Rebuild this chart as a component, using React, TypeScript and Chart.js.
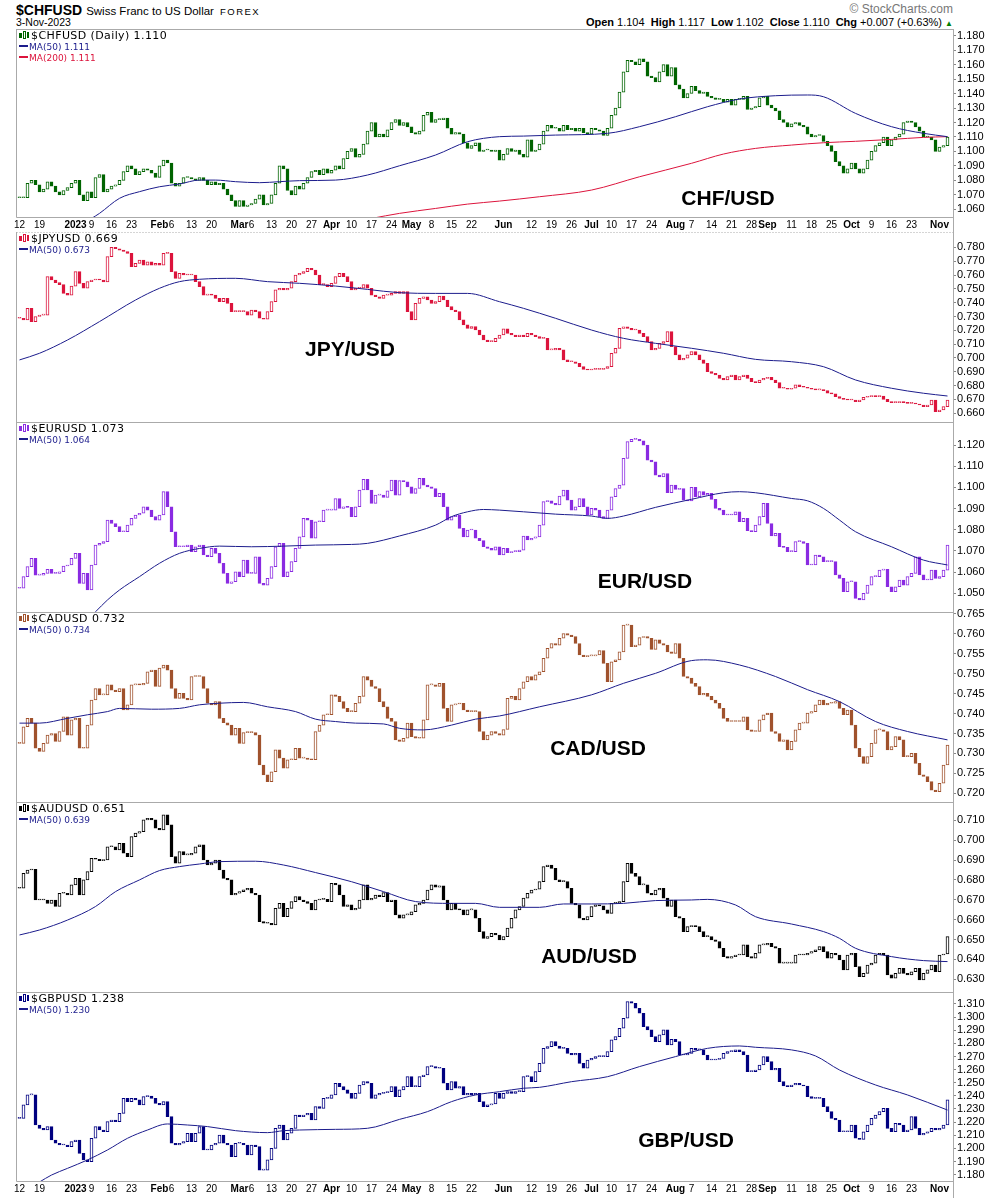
import { useEffect, useRef } from "react";
import { Chart, registerables } from "chart.js";

Chart.register(...registerables);

// trading days 12-Dec-2022 .. 3-Nov-2023 (no bars on 26-Dec and 2-Jan), index 0..232
const dateTickDays = [
  0, 5, 14, 18, 23, 28, 35, 38, 43, 48, 55, 58, 63, 68, 73, 78, 83, 88, 93, 98, 103, 108, 113,
  121, 128, 133, 138, 143, 148, 153, 158, 164, 168, 173, 178, 183, 187, 193, 198, 203, 208, 213,
  218, 223, 230,
];
const dateTickLabels = [
  "12", "19", "2023", "9", "16", "23", "Feb", "6", "13", "20", "Mar", "6", "13", "20", "27",
  "Apr", "10", "17", "24", "May", "8", "15", "22", "Jun", "12", "19", "26", "Jul", "10", "17",
  "24", "Aug", "7", "14", "21", "28", "Sep", "11", "18", "25", "Oct", "9", "16", "23", "Nov",
];
const majorDateLabels = ["2023", "Feb", "Mar", "Apr", "May", "Jun", "Jul", "Aug", "Sep", "Oct", "Nov"];

// daily closes
const chfClose = [
  1.068, 1.068, 1.078, 1.080, 1.077, 1.072, 1.074, 1.079, 1.076,
  1.072, 1.070, 1.073, 1.075, 1.078, 1.080, 1.070, 1.066, 1.072, 1.068,
  1.082, 1.084, 1.072, 1.074, 1.076, 1.077, 1.080, 1.086, 1.090,
  1.088, 1.084, 1.086, 1.088, 1.087, 1.085, 1.082, 1.090, 1.094,
  1.092, 1.078, 1.076, 1.078, 1.082, 1.082, 1.081, 1.080, 1.082, 1.080,
  1.077, 1.079, 1.077, 1.078, 1.074, 1.070, 1.066, 1.062, 1.066, 1.062,
  1.063, 1.064, 1.067, 1.070, 1.063, 1.064, 1.070, 1.078, 1.090, 1.088,
  1.073, 1.070, 1.076, 1.074, 1.078, 1.082, 1.086, 1.087, 1.084, 1.088,
  1.085, 1.087, 1.090, 1.088, 1.095, 1.100, 1.102, 1.096, 1.098, 1.105,
  1.114, 1.120, 1.110, 1.112, 1.110, 1.115, 1.120, 1.122, 1.118, 1.120,
  1.117, 1.113, 1.112, 1.114, 1.125, 1.127, 1.120, 1.122, 1.122, 1.123,
  1.116, 1.112, 1.113, 1.112, 1.106, 1.102, 1.104, 1.106, 1.100, 1.101,
  1.101, 1.100, 1.101, 1.094,
  1.098, 1.102, 1.100, 1.101, 1.098, 1.096, 1.108, 1.100, 1.101, 1.105,
  1.114, 1.118, 1.116, 1.116, 1.114, 1.118, 1.115, 1.116, 1.114, 1.116,
  1.113, 1.112, 1.116, 1.115, 1.114, 1.111, 1.116, 1.125, 1.130, 1.141,
  1.155, 1.163, 1.162, 1.160, 1.164, 1.162, 1.152, 1.151, 1.148, 1.155,
  1.160, 1.152, 1.158, 1.146, 1.143, 1.137, 1.140, 1.145, 1.142, 1.140,
  1.141, 1.138, 1.137, 1.136, 1.136, 1.134, 1.136, 1.132, 1.136, 1.136,
  1.138, 1.129, 1.130, 1.131, 1.137, 1.138, 1.132, 1.130, 1.128, 1.122,
  1.120, 1.117, 1.119, 1.120, 1.118, 1.117, 1.112, 1.110, 1.111, 1.111,
  1.107, 1.104, 1.100, 1.093, 1.090, 1.085, 1.088, 1.092, 1.088, 1.085,
  1.088, 1.094, 1.100, 1.104, 1.106, 1.110, 1.104, 1.108, 1.110, 1.112,
  1.120, 1.121, 1.120, 1.117, 1.114, 1.110, 1.110, 1.108, 1.100, 1.103, 1.104, 1.110,
];
const jpyClose = [
  0.7287, 0.7275, 0.7359, 0.7263, 0.730, 0.731, 0.731, 0.7588, 0.7564, 0.7545,
  0.753, 0.7467, 0.7455, 0.752, 0.7624, 0.754, 0.7504, 0.7552, 0.7564, 0.7569,
  0.7564, 0.755, 0.7733, 0.780, 0.779, 0.778, 0.777, 0.7757, 0.766, 0.7684,
  0.7708, 0.7672, 0.7696, 0.7672, 0.7684, 0.7672, 0.7757, 0.7757, 0.7624, 0.7576,
  0.7612, 0.760, 0.760, 0.760, 0.7552, 0.7516, 0.7455, 0.746, 0.7455, 0.7431,
  0.7407, 0.7431, 0.7395, 0.7335, 0.7335, 0.7335, 0.7335, 0.731, 0.7347, 0.7335,
  0.7287, 0.728, 0.7335, 0.7407, 0.7492, 0.7504, 0.7492, 0.7504, 0.7552, 0.760,
  0.7612, 0.7624, 0.7648, 0.7636, 0.760, 0.753, 0.753, 0.7516, 0.754,
  0.7588, 0.7612, 0.7588, 0.7552, 0.7492, 0.7504, 0.7504, 0.753, 0.7504, 0.7455,
  0.7443, 0.7431, 0.7455, 0.7455, 0.7467, 0.748, 0.7467, 0.748, 0.7335, 0.7275,
  0.7395, 0.7431, 0.7443, 0.7419, 0.7395, 0.7407, 0.7448, 0.7419, 0.7371, 0.7347,
  0.7335, 0.7275, 0.7239, 0.7214, 0.7227, 0.7202, 0.7166, 0.713, 0.7118, 0.7118,
  0.7142, 0.7166, 0.721, 0.7178, 0.7166, 0.7154, 0.7166, 0.7154, 0.7178, 0.7166,
  0.7154, 0.7142, 0.7142, 0.7058, 0.7058, 0.707, 0.7058, 0.6986, 0.6973, 0.6973,
  0.6961, 0.6937, 0.6918, 0.6913, 0.6918, 0.6918, 0.6918, 0.6925, 0.6937, 0.7034,
  0.707, 0.7214, 0.7226, 0.7214, 0.7202, 0.7202, 0.7178, 0.7154, 0.7118, 0.7058,
  0.707, 0.7106, 0.7118, 0.719, 0.7082, 0.7022, 0.6986, 0.6998, 0.7022, 0.7046,
  0.7022, 0.6986, 0.6961, 0.6901, 0.6889, 0.6877, 0.6853, 0.6841, 0.6865, 0.6877,
  0.6841, 0.6865, 0.6877, 0.6853, 0.6829, 0.6822, 0.6841, 0.6853, 0.686, 0.6841,
  0.6822, 0.6781, 0.6781, 0.6774, 0.6781, 0.6805, 0.6793, 0.6788, 0.6781, 0.6774,
  0.6769, 0.6769, 0.6764, 0.6745, 0.674, 0.672, 0.6708, 0.6701, 0.6696, 0.6696,
  0.6684, 0.6696, 0.6716, 0.672, 0.6725, 0.672, 0.6725, 0.6701, 0.6684, 0.6677,
  0.6677, 0.6684, 0.6677, 0.6672, 0.6672, 0.6667, 0.666, 0.6648, 0.666,
  0.6696, 0.6612, 0.6624, 0.6648, 0.6696,
];
const eurClose = [
  1.0524, 1.0579, 1.0626, 1.0665, 1.0586, 1.0586, 1.0594, 1.0613, 1.0594, 1.0594,
  1.0602, 1.0629, 1.0634, 1.0665, 1.0689, 1.0547, 1.0594, 1.0516, 1.0634, 1.0728,
  1.0736, 1.0744, 1.0846, 1.083, 1.0815, 1.0791, 1.0791, 1.0822, 1.0854, 1.087,
  1.0878, 1.0909, 1.0893, 1.0862, 1.0846, 1.087, 1.098, 1.0909, 1.0791, 1.072,
  1.072, 1.072, 1.0728, 1.0697, 1.072, 1.0728, 1.0681, 1.0673, 1.0712, 1.0689,
  1.0642, 1.0594, 1.0547, 1.0555, 1.0602, 1.0579, 1.0657, 1.0594, 1.0594, 1.0673,
  1.0547, 1.0539, 1.0571, 1.0626, 1.072, 1.0736, 1.0579, 1.0602, 1.065, 1.0712,
  1.0767, 1.0854, 1.0846, 1.076, 1.0838, 1.0838, 1.0893, 1.0893, 1.0893,
  1.0948, 1.0901, 1.0909, 1.0906, 1.0862, 1.0909, 1.0988, 1.1038, 1.0988, 1.0925,
  1.0964, 1.0964, 1.0953, 1.0984, 1.1035, 1.0964, 1.1032, 1.1027, 1.1003, 1.0972,
  1.0995, 1.1043, 1.1011, 1.1003, 1.0995, 1.0956, 1.0972, 1.0909, 1.0846, 1.0862,
  1.087, 1.0807, 1.0767, 1.0799, 1.0799, 1.076, 1.0749, 1.072, 1.0712, 1.0704,
  1.072, 1.0681, 1.0712, 1.0692, 1.0697, 1.0697, 1.0704, 1.0771, 1.0752, 1.076,
  1.0767, 1.0822, 1.0933, 1.0937, 1.0925, 1.0917, 1.0959, 1.0988, 1.094, 1.0893,
  1.0909, 1.0948, 1.0909, 1.087, 1.0901, 1.0893, 1.0862, 1.0854, 1.0893, 1.0956,
  1.0995, 1.1011, 1.1137, 1.1216, 1.1227, 1.1227, 1.122, 1.120, 1.1129, 1.1121,
  1.1058, 1.105, 1.1066, 1.0975, 1.1011, 1.0991, 1.0995, 1.094, 1.0937, 1.100,
  1.0956, 1.098, 1.0964, 1.0972, 1.0944, 1.0901, 1.0893, 1.087, 1.087, 1.087,
  1.0885, 1.0838, 1.0854, 1.0796, 1.0791, 1.0822, 1.0862, 1.0925, 1.083, 1.0771,
  1.0783, 1.072, 1.0717, 1.0697, 1.0697, 1.0744, 1.0744, 1.0736, 1.0634, 1.0634,
  1.0681, 1.0673, 1.065, 1.065, 1.065, 1.0587, 1.0571, 1.0508, 1.0555, 1.0555,
  1.0476, 1.0469, 1.050, 1.0539, 1.0579, 1.0579, 1.061, 1.0613, 1.0531, 1.0508,
  1.0531, 1.0563, 1.0539, 1.0579, 1.0594, 1.0673, 1.0587, 1.0563, 1.0563,
  1.061, 1.0571, 1.0579, 1.061, 1.0728,
];
const cadClose = [
  0.7325, 0.7367, 0.7388, 0.7376, 0.7313, 0.7305, 0.7325, 0.7346, 0.735, 0.733,
  0.7355, 0.7392, 0.7346, 0.7384, 0.7388, 0.7313, 0.7313, 0.7371, 0.7434, 0.7463,
  0.7447, 0.7447, 0.7472, 0.7459, 0.7455, 0.7463, 0.7409, 0.7422, 0.7472, 0.7474,
  0.7472, 0.7476, 0.7505, 0.7509, 0.7468, 0.7514, 0.7522, 0.7509, 0.7463, 0.7438,
  0.7451, 0.7438, 0.7434, 0.7493, 0.7493, 0.7493, 0.7463, 0.7426, 0.7422, 0.743,
  0.7388, 0.7377, 0.7371, 0.7346, 0.7363, 0.7325, 0.7352, 0.7352, 0.7352, 0.7346,
  0.7271, 0.7246, 0.7229, 0.7254, 0.7309, 0.7288, 0.7263, 0.7284, 0.7284, 0.7313,
  0.7288, 0.7288, 0.7285, 0.7284, 0.7355, 0.7371, 0.7397, 0.7397, 0.7447,
  0.7443, 0.743, 0.7413, 0.7405, 0.7405, 0.7426, 0.7443, 0.7493, 0.7484, 0.7468,
  0.7463, 0.743, 0.7417, 0.7388, 0.738, 0.7334, 0.733, 0.7338, 0.7376, 0.7342,
  0.7338, 0.7338, 0.7384, 0.7472, 0.7472, 0.7468, 0.7476, 0.7413, 0.738, 0.7422,
  0.7424, 0.7426, 0.7409, 0.7405, 0.7405, 0.7405, 0.7355, 0.7334, 0.7346, 0.7355,
  0.735, 0.7346, 0.736, 0.7438, 0.7443, 0.7434, 0.7463, 0.748, 0.7493, 0.7484,
  0.7497, 0.7505, 0.7539, 0.7564, 0.7576, 0.7572, 0.7589, 0.7601, 0.7597, 0.7593,
  0.7576, 0.7547, 0.7543, 0.7545, 0.7545, 0.7547, 0.7558, 0.7526, 0.748, 0.753,
  0.7535, 0.7555, 0.7622, 0.7622, 0.7568, 0.7572, 0.7591, 0.7593, 0.7589, 0.7561,
  0.7585, 0.7576, 0.7572, 0.7555, 0.7551, 0.7576, 0.7539, 0.7493, 0.7489, 0.7476,
  0.7468, 0.7447, 0.7451, 0.7443, 0.7434, 0.7426, 0.7413, 0.7388, 0.738, 0.738,
  0.738, 0.738, 0.7392, 0.7359, 0.7355, 0.7355, 0.7384, 0.7397, 0.7401, 0.7355,
  0.735, 0.733, 0.7334, 0.7309, 0.733, 0.7359, 0.7376, 0.7376, 0.7401, 0.7405,
  0.7422, 0.7434, 0.7422, 0.7426, 0.7426, 0.743, 0.7413, 0.7397, 0.7409, 0.7371,
  0.7313, 0.7292, 0.7275, 0.7292, 0.7325, 0.7359, 0.7359, 0.7355, 0.7309, 0.7317,
  0.7342, 0.7334, 0.7292, 0.7292, 0.730, 0.7275, 0.7246, 0.7242, 0.7229,
  0.7208, 0.7204, 0.7225, 0.7271, 0.7321,
];
const audClose = [
  0.6758, 0.6833, 0.685, 0.6853, 0.6699, 0.6699, 0.6699, 0.6682, 0.6699, 0.6666,
  0.6733, 0.6733, 0.6724, 0.6775, 0.6808, 0.6724, 0.68, 0.6842, 0.6909, 0.6904,
  0.6897, 0.69, 0.6967, 0.6967, 0.6951, 0.6984, 0.6934, 0.6917, 0.7018, 0.7035,
  0.7043, 0.7102, 0.711, 0.7102, 0.706, 0.7051, 0.7127, 0.7077, 0.6917, 0.6884,
  0.6942, 0.6926, 0.6926, 0.6934, 0.6967, 0.6976, 0.69, 0.6875, 0.6884, 0.69,
  0.685, 0.6808, 0.68, 0.6724, 0.6733, 0.6741, 0.675, 0.6758, 0.6733, 0.6724,
  0.659, 0.6582, 0.6582, 0.6573, 0.6657, 0.6682, 0.6615, 0.6657, 0.6691, 0.6716,
  0.6699, 0.6691, 0.6682, 0.6649, 0.6699, 0.6702, 0.6702, 0.6691, 0.6783,
  0.6775, 0.6724, 0.6666, 0.6674, 0.6649, 0.6657, 0.6699, 0.6775, 0.6699, 0.6707,
  0.6724, 0.6716, 0.6736, 0.6691, 0.6699, 0.6624, 0.6607, 0.6624, 0.6624, 0.664,
  0.6674, 0.6682, 0.6699, 0.6749, 0.6775, 0.6763, 0.677, 0.6699, 0.6649, 0.6682,
  0.6652, 0.6649, 0.6624, 0.6649, 0.6649, 0.6607, 0.654, 0.6506, 0.6515, 0.6531,
  0.6523, 0.6498, 0.6515, 0.6557, 0.6607, 0.6649, 0.6666, 0.6708, 0.6733, 0.6749,
  0.6753, 0.6791, 0.6867, 0.6875, 0.6858, 0.68, 0.6791, 0.6791, 0.6758, 0.6682,
  0.6674, 0.6607, 0.6599, 0.6615, 0.6666, 0.6674, 0.6669, 0.6649, 0.6632, 0.6682,
  0.6682, 0.6691, 0.6791, 0.6884, 0.6833, 0.6817, 0.6775, 0.6775, 0.6733, 0.6724,
  0.6749, 0.6758, 0.6708, 0.6666, 0.6699, 0.6615, 0.6607, 0.654, 0.6565, 0.6568,
  0.6565, 0.654, 0.6515, 0.6515, 0.6498, 0.649, 0.6456, 0.6414, 0.6406, 0.6414,
  0.6422, 0.6422, 0.6473, 0.6414, 0.6406, 0.6431, 0.6473, 0.6473, 0.6481, 0.6464,
  0.6456, 0.6381, 0.6381, 0.6381, 0.6381, 0.6422, 0.6422, 0.6422, 0.6431, 0.6439,
  0.6448, 0.6464, 0.6439, 0.6406, 0.6431, 0.6422, 0.6397, 0.6347, 0.6422, 0.6431,
  0.6364, 0.6313, 0.633, 0.6372, 0.6381, 0.6422, 0.6431, 0.6422, 0.6322, 0.6305,
  0.633, 0.6355, 0.633, 0.6322, 0.6338, 0.6355, 0.6297, 0.633, 0.6347,
  0.6372, 0.6338, 0.6422, 0.6427, 0.6515,
];
const gbpClose = [
  1.2229, 1.2331, 1.2407, 1.2407, 1.2178, 1.2153, 1.214, 1.2166, 1.2064, 1.2039,
  1.2026, 1.2026, 1.2013, 1.2051, 1.2064, 1.1962, 1.1912, 1.1899, 1.2077, 1.2166,
  1.214, 1.2127, 1.2204, 1.2216, 1.2204, 1.2267, 1.2381, 1.2356, 1.2381, 1.2369,
  1.2331, 1.2394, 1.2399, 1.2381, 1.2343, 1.2331, 1.2356, 1.2242, 1.2039, 1.2026,
  1.2039, 1.2051, 1.2115, 1.2051, 1.2115, 1.2166, 1.1988, 1.1988, 1.2026, 1.2039,
  1.2102, 1.2039, 1.2026, 1.1937, 1.2039, 1.2039, 1.2026, 1.195, 1.2026, 1.2013,
  1.1835, 1.1835, 1.1912, 1.200, 1.2153, 1.2178, 1.2064, 1.2115, 1.2153, 1.2254,
  1.2242, 1.2254, 1.2267, 1.2216, 1.2318, 1.2305, 1.2381, 1.2381, 1.2407,
  1.2496, 1.247, 1.2445, 1.2419, 1.2381, 1.2419, 1.2483, 1.2508, 1.2496, 1.2381,
  1.2407, 1.2419, 1.2425, 1.2432, 1.247, 1.2394, 1.2445, 1.247, 1.2546, 1.247,
  1.247, 1.2546, 1.2559, 1.2623, 1.2623, 1.261, 1.261, 1.2496, 1.2445, 1.2508,
  1.2458, 1.247, 1.2407, 1.2419, 1.2407, 1.2419, 1.2356, 1.2318, 1.2331, 1.2338,
  1.2419, 1.2381, 1.2419, 1.2432, 1.2419, 1.2432, 1.2432, 1.2546, 1.2546, 1.2508,
  1.2585, 1.2648, 1.2762, 1.2775, 1.2813, 1.278, 1.2762, 1.2762, 1.2724, 1.2711,
  1.2724, 1.2648, 1.261, 1.2673, 1.2686, 1.2699, 1.2699, 1.2699, 1.2737, 1.2826,
  1.2851, 1.2915, 1.2991, 1.3118, 1.3105, 1.3067, 1.3029, 1.2927, 1.2902, 1.2851,
  1.2813, 1.2864, 1.2902, 1.2788, 1.2831, 1.2813, 1.2711, 1.2711, 1.2724, 1.2762,
  1.275, 1.275, 1.2711, 1.2673, 1.2673, 1.2678, 1.2686, 1.2724, 1.2737, 1.2737,
  1.275, 1.2737, 1.2711, 1.2585, 1.2585, 1.2597, 1.2635, 1.2699, 1.2661, 1.2597,
  1.261, 1.2508, 1.2475, 1.247, 1.2483, 1.2496, 1.2483, 1.2475, 1.2394, 1.2381,
  1.2381, 1.2381, 1.2318, 1.228, 1.2229, 1.2216, 1.2127, 1.2127, 1.2127, 1.2178,
  1.2077, 1.2069, 1.2127, 1.2178, 1.2229, 1.2254, 1.228, 1.2305, 1.2153, 1.2127,
  1.2191, 1.2178, 1.2127, 1.214, 1.2242, 1.2153, 1.2102, 1.2115, 1.2127,
  1.2153, 1.214, 1.2153, 1.2178, 1.2369,
];

// moving averages: day index and value
const chfMa50Days = [18, 20, 25, 30, 35, 40, 45, 49, 54, 60, 65, 70, 79, 87, 95, 104, 112, 120, 126, 134, 147, 155, 164, 172, 180, 189, 197, 201, 209, 218, 226, 232];
const chfMa50 = [1.0537, 1.0572, 1.0676, 1.0722, 1.0756, 1.0775, 1.0802, 1.0802, 1.0791, 1.0784, 1.0791, 1.0798, 1.0802, 1.0837, 1.0901, 1.0975, 1.1067, 1.1102, 1.1106, 1.1113, 1.1125, 1.1171, 1.124, 1.1309, 1.1362, 1.1385, 1.139, 1.1378, 1.1263, 1.1171, 1.1125, 1.1102];
const chfMa200Days = [88, 95, 104, 112, 120, 130, 143, 155, 168, 176, 184, 193, 201, 209, 218, 226, 232];
const chfMa200 = [1.0537, 1.0572, 1.0606, 1.0636, 1.0657, 1.0687, 1.0733, 1.0825, 1.0918, 1.0982, 1.1021, 1.1044, 1.106, 1.107, 1.1083, 1.1097, 1.1102];
const jpyMa50Days = [0, 5, 12, 20, 29, 35, 40, 45, 54, 62, 70, 79, 87, 95, 104, 112, 120, 126, 134, 143, 151, 159, 168, 176, 184, 193, 201, 209, 218, 226, 232];
const jpyMa50 = [0.6986, 0.7034, 0.713, 0.7263, 0.7419, 0.7504, 0.7552, 0.7569, 0.7576, 0.7552, 0.754, 0.752, 0.7496, 0.7472, 0.7467, 0.7467, 0.7407, 0.7359, 0.7287, 0.7202, 0.7142, 0.7106, 0.707, 0.7034, 0.699, 0.6973, 0.6937, 0.6841, 0.6781, 0.6745, 0.6725];
const eurMa50Days = [19, 22, 25, 30, 35, 40, 45, 50, 58, 66, 74, 83, 87, 95, 104, 108, 112, 116, 120, 126, 134, 143, 147, 151, 159, 168, 176, 180, 184, 193, 197, 201, 205, 209, 218, 226, 232];
const eurMa50 = [1.0413, 1.0469, 1.0516, 1.0579, 1.0642, 1.0689, 1.0712, 1.0723, 1.072, 1.0723, 1.0728, 1.0731, 1.0736, 1.0771, 1.0822, 1.0862, 1.0885, 1.0896, 1.0893, 1.0885, 1.0874, 1.0865, 1.0854, 1.0865, 1.0906, 1.0944, 1.0975, 1.098, 1.0975, 1.0948, 1.0937, 1.0901, 1.0846, 1.0791, 1.072, 1.0657, 1.0634];
const cadMa50Days = [0, 5, 12, 17, 22, 25, 33, 40, 45, 50, 56, 62, 69, 74, 79, 84, 91, 95, 101, 108, 114, 120, 130, 143, 151, 159, 168, 172, 180, 189, 197, 205, 214, 222, 232];
const cadMa50 = [0.7376, 0.7376, 0.7388, 0.7397, 0.7405, 0.7413, 0.7411, 0.7413, 0.7422, 0.7426, 0.7428, 0.7417, 0.7405, 0.7386, 0.738, 0.7376, 0.7374, 0.7363, 0.7359, 0.7371, 0.7386, 0.7394, 0.7417, 0.7447, 0.7476, 0.7501, 0.7533, 0.7535, 0.7522, 0.7493, 0.746, 0.743, 0.738, 0.7355, 0.7334];
const audMa50Days = [0, 5, 12, 19, 24, 30, 35, 40, 45, 50, 59, 66, 74, 83, 91, 99, 108, 114, 120, 130, 136, 143, 151, 159, 168, 172, 179, 184, 193, 201, 205, 209, 218, 226, 232];
const audMa50 = [0.6523, 0.6548, 0.6598, 0.6666, 0.6741, 0.68, 0.6847, 0.6867, 0.688, 0.6892, 0.6894, 0.6875, 0.6837, 0.6791, 0.6741, 0.6691, 0.6682, 0.6682, 0.6662, 0.6662, 0.6679, 0.6679, 0.6682, 0.6696, 0.6699, 0.6702, 0.6674, 0.6615, 0.6578, 0.654, 0.6506, 0.6456, 0.6414, 0.6394, 0.6389];
const gbpMa50Days = [5, 8, 12, 17, 22, 27, 32, 37, 42, 47, 54, 62, 66, 70, 79, 87, 95, 102, 108, 114, 120, 126, 130, 138, 147, 155, 164, 172, 180, 184, 193, 199, 205, 214, 222, 232];
const gbpMa50 = [1.1744, 1.1797, 1.1848, 1.1912, 1.1988, 1.2077, 1.214, 1.2186, 1.2178, 1.2166, 1.2135, 1.212, 1.2135, 1.214, 1.2145, 1.2153, 1.2221, 1.228, 1.2356, 1.2407, 1.2432, 1.2458, 1.2465, 1.2508, 1.2546, 1.2623, 1.2699, 1.2762, 1.278, 1.277, 1.275, 1.2704, 1.2597, 1.2483, 1.2407, 1.2292];

// price axis ticks
const chfTicks = [1.06, 1.07, 1.08, 1.09, 1.1, 1.11, 1.12, 1.13, 1.14, 1.15, 1.16, 1.17, 1.18];
const jpyTicks = [0.66, 0.67, 0.68, 0.69, 0.7, 0.71, 0.72, 0.73, 0.74, 0.75, 0.76, 0.77, 0.78];
const eurTicks = [1.05, 1.06, 1.07, 1.08, 1.09, 1.1, 1.11, 1.12];
const cadTicks = [0.72, 0.725, 0.73, 0.735, 0.74, 0.745, 0.75, 0.755, 0.76, 0.765];
const audTicks = [0.63, 0.64, 0.65, 0.66, 0.67, 0.68, 0.69, 0.7, 0.71];
const gbpTicks = [1.18, 1.19, 1.2, 1.21, 1.22, 1.23, 1.24, 1.25, 1.26, 1.27, 1.28, 1.29, 1.3, 1.31];

const MA50_COLOR = "#1c1c8c";
const MA200_COLOR = "#dc143c";

type MaLine = { label: string; days: number[]; values: number[]; color: string };

type PanelSpec = {
  symbol: string;
  last: string;
  close: number[];
  color: string;
  ma: MaLine[];
  yTicks: number[];
  yMin: number;
  yMax: number;
  top: number;
  plotHeight: number;
  dateAxis: number;
  dottedTop: boolean;
  closeBottom: boolean;
  name: string;
  nameX: number;
  nameY: number;
};

const panels: PanelSpec[] = [
  {
    symbol: "$CHFUSD (Daily)", last: "1.110", close: chfClose, color: "#006400",
    ma: [
      { label: "MA(50) 1.111", days: chfMa50Days, values: chfMa50, color: MA50_COLOR },
      { label: "MA(200) 1.111", days: chfMa200Days, values: chfMa200, color: MA200_COLOR },
    ],
    yTicks: chfTicks, yMin: 1.054, yMax: 1.1846, top: 29, plotHeight: 189, dateAxis: 14,
    dottedTop: false, closeBottom: true, name: "CHF/USD", nameX: 728, nameY: 198,
  },
  {
    symbol: "$JPYUSD", last: "0.669", close: jpyClose, color: "#dc143c",
    ma: [{ label: "MA(50) 0.673", days: jpyMa50Days, values: jpyMa50, color: MA50_COLOR }],
    yTicks: jpyTicks, yMin: 0.6537, yMax: 0.7911, top: 232, plotHeight: 190, dateAxis: 0,
    dottedTop: true, closeBottom: false, name: "JPY/USD", nameX: 350, nameY: 349,
  },
  {
    symbol: "$EURUSD", last: "1.073", close: eurClose, color: "#8a2be2",
    ma: [{ label: "MA(50) 1.064", days: eurMa50Days, values: eurMa50, color: MA50_COLOR }],
    yTicks: eurTicks, yMin: 1.0412, yMax: 1.1309, top: 422, plotHeight: 190, dateAxis: 0,
    dottedTop: false, closeBottom: false, name: "EUR/USD", nameX: 645, nameY: 581,
  },
  {
    symbol: "$CADUSD", last: "0.732", close: cadClose, color: "#a0522d",
    ma: [{ label: "MA(50) 0.734", days: cadMa50Days, values: cadMa50, color: MA50_COLOR }],
    yTicks: cadTicks, yMin: 0.7178, yMax: 0.7655, top: 612, plotHeight: 190, dateAxis: 0,
    dottedTop: false, closeBottom: false, name: "CAD/USD", nameX: 598, nameY: 748,
  },
  {
    symbol: "$AUDUSD", last: "0.651", close: audClose, color: "#000000",
    ma: [{ label: "MA(50) 0.639", days: audMa50Days, values: audMa50, color: MA50_COLOR }],
    yTicks: audTicks, yMin: 0.6236, yMax: 0.7192, top: 802, plotHeight: 190, dateAxis: 0,
    dottedTop: false, closeBottom: false, name: "AUD/USD", nameX: 589, nameY: 956,
  },
  {
    symbol: "$GBPUSD", last: "1.238", close: gbpClose, color: "#000080",
    ma: [{ label: "MA(50) 1.230", days: gbpMa50Days, values: gbpMa50, color: MA50_COLOR }],
    yTicks: gbpTicks, yMin: 1.1744, yMax: 1.3191, top: 992, plotHeight: 190, dateAxis: 16,
    dottedTop: false, closeBottom: true, name: "GBP/USD", nameX: 686, nameY: 1140,
  },
];

const FRAME = "#aaaaaa";
const TICK_FONT = "'Liberation Sans', Arial, sans-serif";
const LEGEND_FONT = "'DejaVu Sans', Verdana, sans-serif";
// transparent margin round each canvas so edge tick labels are not cut off
const BLEED = 8;

const framePlugin = {
  id: "panelFrame",
  afterDraw(chart: any, _args: any, opts: any) {
    const { ctx, chartArea: a, height } = chart;
    const l = Math.round(a.left) + 0.5;
    const r = Math.round(a.right) + 0.5;
    const t = Math.round(a.top) + 0.5;
    const b = Math.round(a.bottom) - 0.5;
    const seg = (x1: number, y1: number, x2: number, y2: number) => {
      ctx.beginPath();
      ctx.moveTo(x1, y1);
      ctx.lineTo(x2, y2);
      ctx.stroke();
    };
    ctx.save();
    ctx.strokeStyle = FRAME;
    ctx.lineWidth = 1;
    ctx.setLineDash(opts.dottedTop ? [1, 2] : []);
    seg(l, t, r, t);
    ctx.setLineDash([]);
    seg(l, a.top, l, opts.closeBottom ? b : a.bottom);
    seg(r, a.top, r, height - BLEED);
    if (opts.closeBottom) seg(l, b, r, b);
    ctx.restore();
  },
};

function PricePanel({ spec }: { spec: PanelSpec }) {
  const canvasRef = useRef<HTMLCanvasElement | null>(null);

  useEffect(() => {
    if (!canvasRef.current) return;
    const close = spec.close;
    const open = close.map((c, i) => (i === 0 ? c : close[i - 1]));
    const bodies = close.map((c, i) => ({ x: i, y: [open[i], c] }));
    const fills = close.map((c, i) => (c < open[i] ? spec.color : "#ffffff"));

    const chart = new Chart(canvasRef.current, {
      type: "bar",
      data: {
        datasets: [
          ...spec.ma.map((m) => ({
            type: "line" as const,
            data: m.days.map((d, i) => ({ x: d, y: m.values[i] })),
            borderColor: m.color,
            borderWidth: 1,
            pointRadius: 0,
            cubicInterpolationMode: "monotone" as const,
            order: 0,
          })),
          {
            type: "bar" as const,
            data: bodies as any,
            backgroundColor: fills,
            borderColor: spec.color,
            borderWidth: 1,
            borderSkipped: false,
            barThickness: 3,
            minBarLength: 1,
            order: 1,
          },
        ],
      },
      options: {
        animation: false,
        responsive: true,
        maintainAspectRatio: false,
        events: [],
        layout: { padding: { left: 16, right: 0, top: BLEED, bottom: BLEED } },
        plugins: {
          legend: { display: false },
          tooltip: { enabled: false },
          panelFrame: { dottedTop: spec.dottedTop, closeBottom: spec.closeBottom },
        } as any,
        scales: {
          x: {
            type: "linear",
            min: -0.875,
            max: 233.375,
            offset: false,
            display: spec.dateAxis > 0,
            grid: { display: false, drawTicks: false },
            border: { display: false },
            afterBuildTicks: (s: any) => {
              s.ticks = dateTickDays.map((v) => ({ value: v }));
            },
            afterFit: (s: any) => {
              s.height = spec.dateAxis;
              s.paddingLeft = 0;
              s.paddingRight = 0;
            },
            ticks: {
              autoSkip: false,
              maxRotation: 0,
              padding: 1,
              color: "#000",
              font: (c: any) => {
                const label = dateTickLabels[dateTickDays.indexOf(c.tick?.value)];
                return {
                  family: TICK_FONT,
                  size: 10,
                  weight: majorDateLabels.includes(label) ? "bold" : "normal",
                };
              },
              callback: (v: any) => dateTickLabels[dateTickDays.indexOf(Number(v))] ?? "",
            },
          },
          y: {
            position: "right",
            min: spec.yMin,
            max: spec.yMax,
            grid: { display: true, drawOnChartArea: false, drawTicks: true, tickLength: 3, color: "#888" },
            border: { display: false },
            afterBuildTicks: (s: any) => {
              s.ticks = spec.yTicks.map((v) => ({ value: v }));
            },
            afterFit: (s: any) => {
              s.width = 47;
              s.paddingTop = 0;
              s.paddingBottom = 0;
            },
            ticks: {
              autoSkip: false,
              padding: 1,
              color: "#000",
              font: { family: TICK_FONT, size: 11 },
              callback: (v: any) => Number(v).toFixed(3),
            },
          },
        },
      },
      plugins: [framePlugin],
    });

    return () => chart.destroy();
  }, [spec]);

  return (
    <div
      style={{
        position: "absolute",
        left: 0,
        top: spec.top - BLEED,
        width: 1000,
        height: spec.plotHeight + spec.dateAxis + 2 * BLEED,
        pointerEvents: "none",
      }}
    >
      <canvas ref={canvasRef} />
    </div>
  );
}

function CandleIcon({ color }: { color: string }) {
  return (
    <span style={{ display: "inline-block", position: "relative", width: 10, height: 9, marginRight: 2, verticalAlign: -1 }}>
      <span style={{ position: "absolute", left: 0, top: 2, width: 3, height: 5, background: color }} />
      <span style={{ position: "absolute", left: 4, top: 0, width: 3, height: 8, border: `1px solid ${color}`, boxSizing: "border-box" }} />
      <span style={{ position: "absolute", left: 8, top: 1, width: 2, height: 6, background: color }} />
    </span>
  );
}

function PanelLegend({ spec }: { spec: PanelSpec }) {
  return (
    <div style={{ position: "absolute", left: 19, top: spec.top + 1, fontFamily: LEGEND_FONT, pointerEvents: "none" }}>
      <div style={{ fontSize: 11, lineHeight: "12px", color: "#000", whiteSpace: "nowrap", letterSpacing: 0.4 }}>
        <CandleIcon color={spec.color} />
        {spec.symbol} {spec.last}
      </div>
      {spec.ma.map((m) => (
        <div key={m.label} style={{ fontSize: 9, lineHeight: "11px", color: m.color, whiteSpace: "nowrap" }}>
          <span style={{ display: "inline-block", width: 9, height: 2, background: m.color, verticalAlign: 3, marginRight: 1 }} />
          {m.label}
        </div>
      ))}
    </div>
  );
}

export default function App() {
  useEffect(() => {
    document.body.style.margin = "0";
  }, []);

  const bold = { fontWeight: "bold" as const };

  return (
    <div
      style={{
        position: "absolute",
        left: 0,
        top: 0,
        width: 1000,
        height: 1200,
        background: "#fff",
        overflow: "hidden",
        fontFamily: TICK_FONT,
        color: "#000",
      }}
    >
      <div style={{ position: "absolute", left: 16, top: 1, whiteSpace: "nowrap" }}>
        <span style={{ fontSize: 14, fontWeight: "bold" }}>$CHFUSD</span>
        <span style={{ fontSize: 11.5, marginLeft: 4 }}>Swiss Franc to US Dollar</span>
        <span style={{ fontSize: 9.5, marginLeft: 6, letterSpacing: 1.5 }}>FOREX</span>
      </div>
      <div style={{ position: "absolute", left: 16, top: 16, fontSize: 10.5 }}>3-Nov-2023</div>
      <div style={{ position: "absolute", right: 47, top: 2, fontSize: 12, color: "#777" }}>© StockCharts.com</div>
      <div style={{ position: "absolute", right: 47, top: 16, fontSize: 11, whiteSpace: "nowrap" }}>
        <span style={bold}>Open</span> 1.104&nbsp; <span style={bold}>High</span> 1.117&nbsp;{" "}
        <span style={bold}>Low</span> 1.102&nbsp; <span style={bold}>Close</span> 1.110&nbsp;{" "}
        <span style={bold}>Chg</span> +0.007 (+0.63%) <span style={{ color: "#008000", fontSize: 8 }}>▲</span>
      </div>

      {panels.map((p) => (
        <PricePanel key={p.name} spec={p} />
      ))}
      {panels.map((p) => (
        <PanelLegend key={p.name + "-legend"} spec={p} />
      ))}
      {panels.map((p) => (
        <div
          key={p.name + "-name"}
          style={{
            position: "absolute",
            left: p.nameX,
            top: p.nameY,
            transform: "translate(-50%, -50%)",
            fontSize: 21,
            fontWeight: "bold",
            whiteSpace: "nowrap",
            pointerEvents: "none",
          }}
        >
          {p.name}
        </div>
      ))}
    </div>
  );
}
